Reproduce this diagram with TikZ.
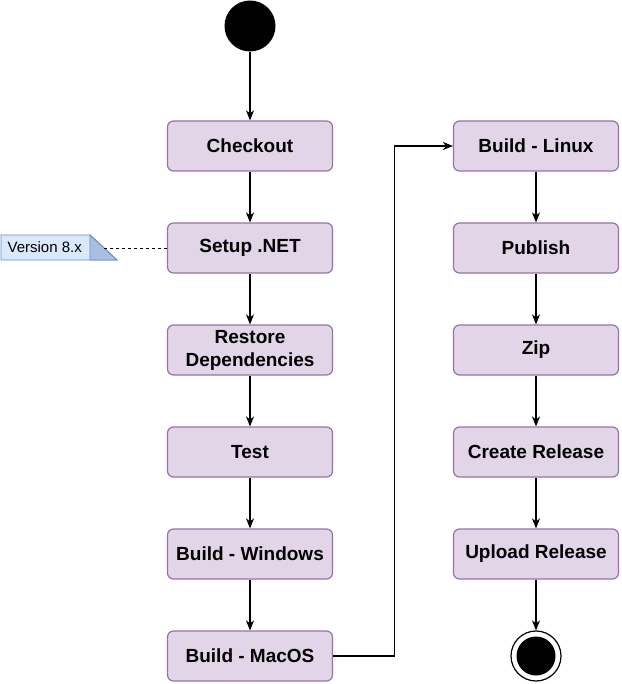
\documentclass[tikz,border=0pt]{standalone}
\usepackage{tikz}
\usetikzlibrary{arrows,arrows.meta}
\usetikzlibrary{shapes}
\usetikzlibrary{backgrounds,positioning}
\usepackage{fontspec}
\setmainfont{Liberation Sans}
\usepackage{xcolor}
\definecolor{stepfill}{HTML}{E1D5E7}
\definecolor{stepline}{HTML}{9673A6}
\definecolor{notefill}{HTML}{DAE8FC}
\definecolor{noteline}{HTML}{6C8EBF}
\begin{document}
\begin{tikzpicture}[x=1pt,y=-1pt,line width=1.2pt]
    \useasboundingbox (0,0) rectangle (621,684);
    \tikzstyle{stepbox}=[draw=stepline,fill=stepfill,rounded corners=6pt,
      minimum width=165pt,minimum height=50pt,align=center,
      font=\fontsize{19}{23}\selectfont\bfseries,inner sep=0pt]
    \tikzstyle{flow}=[draw=black,-{Stealth[length=10pt,width=8pt,inset=3pt]}]
    % start
    \node[circle,fill=black,minimum size=51pt,inner sep=0pt] (S) at (250,26) {};
    % left column
    \begin{scope}
      \node[stepbox] (C)  at (250,146) {Checkout};
      \node[stepbox] (N)  at (250,248) {Setup .NET};
      \node[stepbox] (R)  at (250,350) {Restore\\Dependencies};
      \node[stepbox] (T)  at (250,452) {Test};
      \node[stepbox] (BW) at (250,554) {Build - Windows};
      \node[stepbox] (BM) at (250,656) {Build - MacOS};
    \end{scope}
    % right column
    \begin{scope}
      \node[stepbox] (BL) at (536,146) {Build - Linux};
      \node[stepbox] (P)  at (536,248) {Publish};
      \node[stepbox] (Z)  at (536,350) {Zip};
      \node[stepbox] (CR) at (536,452) {Create Release};
      \node[stepbox] (UR) at (536,554) {Upload Release};
    \end{scope}
    % end
    \node[circle,draw=black,fill=white,minimum size=50pt,inner sep=0pt] (E) at (536,656) {};
    \node[circle,fill=black,minimum size=39pt,inner sep=0pt] (E1) at (E) {};
    % note
    \draw[draw=noteline,fill=notefill,line width=0.9pt] (1,235) -- (90,235) -- (117,260) -- (1,260) -- cycle;
    \draw[draw=noteline,fill=noteline!45!notefill,line width=0.9pt] (90,235) -- (117,260) -- (90,260) -- cycle;
    \node[font=\fontsize{15}{18}\selectfont,anchor=west,inner sep=0pt] (V) at (7,247.5) {Version 8.x};
    \coordinate (Vr) at (104,248);
    \draw[dashed,line width=0.9pt,dash pattern=on 3pt off 3pt] (Vr) -- (N.west);
    % flow
    \draw[flow] (S) -- (C);
    \draw[flow] (C) -- (N);
    \draw[flow] (N) -- (R);
    \draw[flow] (R) -- (T);
    \draw[flow] (T) -- (BW);
    \draw[flow] (BW) -- (BM);
    \draw[flow] (BM.east) -- ++(61,0) |- (BL.west);
    \draw[flow] (BL) -- (P);
    \draw[flow] (P) -- (Z);
    \draw[flow] (Z) -- (CR);
    \draw[flow] (CR) -- (UR);
    \draw[flow] (UR) -- (E);
  \end{tikzpicture}
\end{document}
